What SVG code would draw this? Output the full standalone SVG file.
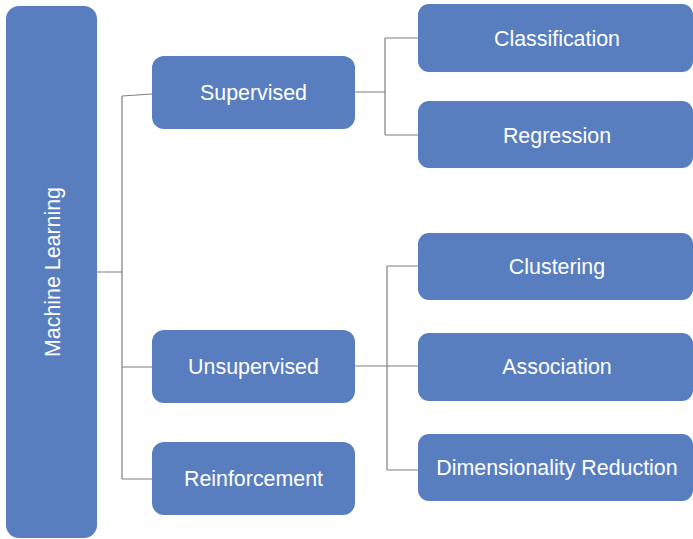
<svg xmlns="http://www.w3.org/2000/svg" width="693" height="539" viewBox="0 0 693 539">
<style>
.n{fill:#587EBF;}
.t{fill:#ffffff;font-family:"Liberation Sans",Arial,sans-serif;font-size:21.4px;text-anchor:middle;dominant-baseline:central;}
.c{fill:none;stroke:#7f7f7f;stroke-width:1.2;}
</style>
<rect width="693" height="539" fill="#ffffff"/>
<g id="connectors">
<path class="c" d="M97 272H122M122 96V479M122 96L152 94M122 367H152M122 479H152"/>
<path class="c" d="M355 92H385M385 38V135M385 38H418M385 135H418"/>
<path class="c" d="M355 366H418M387 266V470M387 266H418M387 470H418"/>
</g>
<g id="machine-learning"><rect class="n" x="6" y="6" width="91" height="532" rx="13"/><text class="t" transform="translate(53 272) rotate(-90)">Machine Learning</text></g>
<g id="supervised"><rect class="n" x="152" y="56" width="203" height="73" rx="12"/><text class="t" x="253.5" y="93">Supervised</text></g>
<g id="unsupervised"><rect class="n" x="152" y="330" width="203" height="73" rx="12"/><text class="t" x="253.5" y="367">Unsupervised</text></g>
<g id="reinforcement"><rect class="n" x="152" y="442" width="203" height="73" rx="12"/><text class="t" x="253.5" y="479">Reinforcement</text></g>
<g id="classification"><rect class="n" x="418" y="4" width="275" height="68" rx="11"/><text class="t" x="557" y="39">Classification</text></g>
<g id="regression"><rect class="n" x="418" y="101" width="275" height="67" rx="11"/><text class="t" x="557" y="136">Regression</text></g>
<g id="clustering"><rect class="n" x="418" y="233" width="275" height="67" rx="11"/><text class="t" x="557" y="267">Clustering</text></g>
<g id="association"><rect class="n" x="418" y="333" width="275" height="68" rx="11"/><text class="t" x="557" y="367">Association</text></g>
<g id="dimensionality-reduction"><rect class="n" x="418" y="434" width="275" height="67" rx="11"/><text class="t" x="557" y="468">Dimensionality Reduction</text></g>
</svg>
